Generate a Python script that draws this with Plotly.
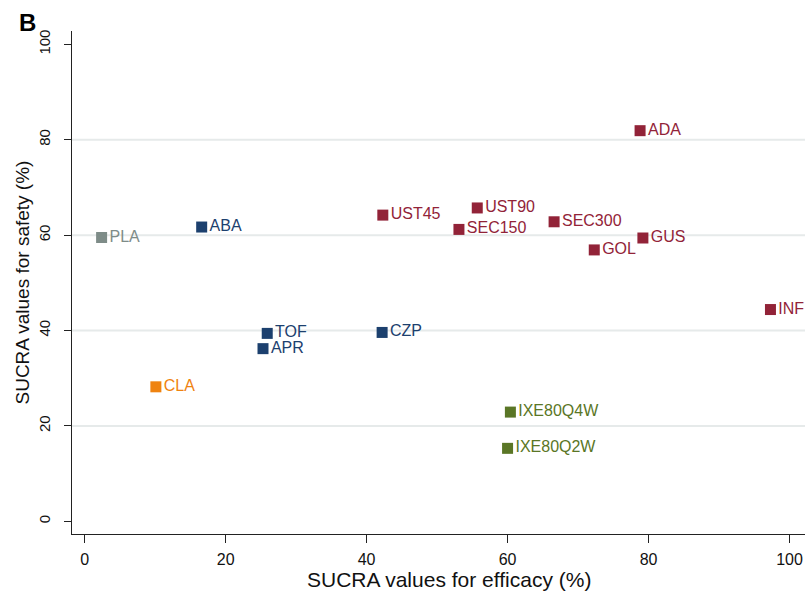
import plotly.graph_objects as go

# SUCRA rankings per treatment: efficacy (x) vs safety (y)
treatments = ["PLA", "ABA", "CLA", "TOF", "APR", "CZP",
              "UST45", "UST90", "SEC150", "SEC300", "GOL", "GUS", "ADA", "INF",
              "IXE80Q4W", "IXE80Q2W"]
efficacy = [2.4, 16.6, 10.1, 25.9, 25.3, 42.2,
            42.3, 55.7, 53.1, 66.6, 72.3, 79.2, 78.8, 97.3,
            60.4, 60.0]
safety = [59.5, 61.7, 28.2, 39.4, 36.2, 39.6,
          64.2, 65.7, 61.2, 62.8, 56.9, 59.4, 81.9, 44.4,
          22.9, 15.3]
groups = ["placebo", "navy", "orange", "navy", "navy", "navy",
          "red", "red", "red", "red", "red", "red", "red", "red",
          "green", "green"]

group_colors = {
    "placebo": "#7e8c88",
    "navy": "#1c406e",
    "orange": "#ef8310",
    "red": "#922338",
    "green": "#5a7626",
}

x_ticks = [0, 20, 40, 60, 80, 100]
y_ticks = [0, 20, 40, 60, 80, 100]
grid_levels = [20, 40, 60, 80]

FONT = "Liberation Sans, Arial, sans-serif"

fig = go.Figure()

# horizontal reference lines at the interior y ticks
for g in grid_levels:
    fig.add_shape(type="line", xref="paper", yref="y", x0=0, x1=1, y0=g, y1=g,
                  line=dict(color="#e6eaea", width=2), layer="below")

for grp, col in group_colors.items():
    idx = [i for i, gg in enumerate(groups) if gg == grp]
    fig.add_trace(go.Scatter(
        x=[efficacy[i] for i in idx],
        y=[safety[i] for i in idx],
        text=[treatments[i] for i in idx],
        mode="markers+text",
        textposition="middle right",
        marker=dict(symbol="square", size=11, color=col),
        textfont=dict(family=FONT, size=16, color=col),
        showlegend=False,
        cliponaxis=False,
    ))

fig.update_layout(
    width=805, height=592,
    margin=dict(l=72, r=0, t=31, b=58),
    paper_bgcolor="white",
    plot_bgcolor="white",
    font=dict(family=FONT, color="#111111"),
    xaxis=dict(
        range=[-1.8, 102.2],
        tickvals=x_ticks,
        ticks="outside", ticklen=8, tickcolor="#222",
        showline=True, linecolor="#222", linewidth=1,
        showgrid=False, zeroline=False,
        tickfont=dict(family=FONT, size=16, color="#111"),
        ticklabelstandoff=3,
    ),
    yaxis=dict(
        range=[-2.66, 102.8],
        tickvals=y_ticks,
        tickangle=-90,
        ticks="outside", ticklen=7, tickcolor="#222",
        showline=True, linecolor="#222", linewidth=1,
        showgrid=False, zeroline=False,
        tickfont=dict(family=FONT, size=15, color="#111"),
        ticklabelstandoff=8,
    ),
    annotations=[
        dict(text="SUCRA values for efficacy (%)", xref="paper", yref="paper",
             x=0.515, y=0, yshift=-45, xanchor="center", yanchor="middle",
             showarrow=False, font=dict(family=FONT, size=21, color="#111")),
        dict(text="SUCRA values for safety (%)", xref="paper", yref="paper",
             x=0, xshift=-50, y=0.5, xanchor="center", yanchor="middle",
             textangle=-90, showarrow=False,
             font=dict(family=FONT, size=19, color="#111")),
        dict(text="<b>B</b>", xref="paper", yref="paper",
             x=0, xshift=-45, y=1, yshift=9, xanchor="center", yanchor="middle",
             showarrow=False, font=dict(family=FONT, size=24, color="#000")),
    ],
)

fig.write_html("out.html")
